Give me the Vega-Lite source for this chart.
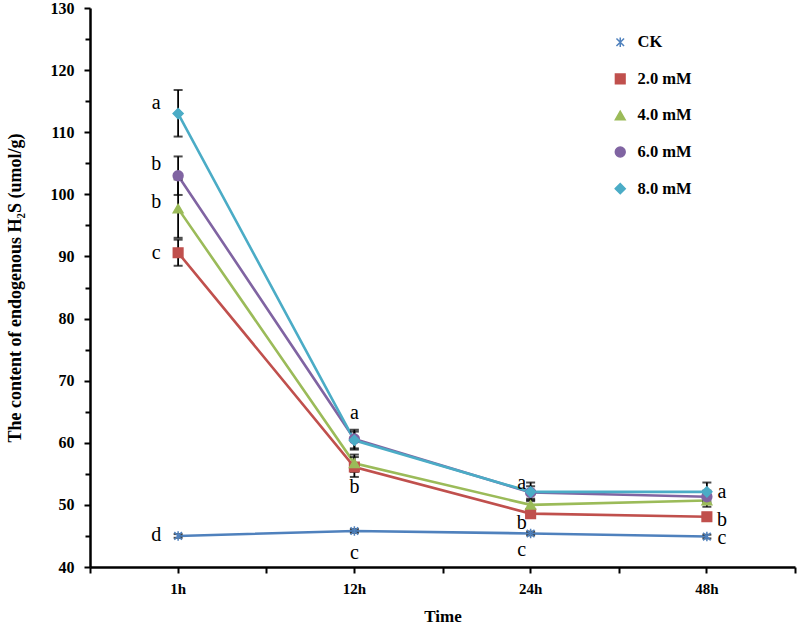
{
  "$schema": "https://vega.github.io/schema/vega-lite/v6.json",
  "width": 705,
  "height": 559,
  "autosize": {"type": "none"},
  "padding": {"left": 90, "top": 8, "right": 2, "bottom": 65},
  "background": "white",
  "datasets": {
    "h2s": [
      {"time": "1h", "series": "CK", "value": 45.0, "lo": 44.7, "hi": 45.3},
      {"time": "12h", "series": "CK", "value": 45.8, "lo": 45.5, "hi": 46.1},
      {"time": "24h", "series": "CK", "value": 45.4, "lo": 45.1, "hi": 45.7},
      {"time": "48h", "series": "CK", "value": 44.9, "lo": 44.6, "hi": 45.2},
      {"time": "1h", "series": "2.0 mM", "value": 90.6, "lo": 88.5, "hi": 92.7},
      {"time": "12h", "series": "2.0 mM", "value": 56.1, "lo": 54.5, "hi": 57.7},
      {"time": "24h", "series": "2.0 mM", "value": 48.6, "lo": 48.0, "hi": 49.2},
      {"time": "48h", "series": "2.0 mM", "value": 48.1, "lo": 47.7, "hi": 48.5},
      {"time": "1h", "series": "4.0 mM", "value": 97.7, "lo": 93.0, "hi": 102.4},
      {"time": "12h", "series": "4.0 mM", "value": 56.7, "lo": 55.3, "hi": 58.1},
      {"time": "24h", "series": "4.0 mM", "value": 50.0, "lo": 49.2, "hi": 50.8},
      {"time": "48h", "series": "4.0 mM", "value": 50.7, "lo": 49.7, "hi": 51.7},
      {"time": "1h", "series": "6.0 mM", "value": 103.0, "lo": 99.9, "hi": 106.1},
      {"time": "12h", "series": "6.0 mM", "value": 60.6, "lo": 59.1, "hi": 62.1},
      {"time": "24h", "series": "6.0 mM", "value": 52.0, "lo": 51.0, "hi": 53.0},
      {"time": "48h", "series": "6.0 mM", "value": 51.3, "lo": 50.3, "hi": 52.3},
      {"time": "1h", "series": "8.0 mM", "value": 113.0, "lo": 109.3, "hi": 116.8},
      {"time": "12h", "series": "8.0 mM", "value": 60.4, "lo": 58.9, "hi": 61.8},
      {"time": "24h", "series": "8.0 mM", "value": 52.1, "lo": 50.6, "hi": 53.6},
      {"time": "48h", "series": "8.0 mM", "value": 52.1, "lo": 50.6, "hi": 53.6}
    ],
    "letters": [
      {"time": "1h", "letter": "a", "value": 114.7},
      {"time": "1h", "letter": "b", "value": 104.9},
      {"time": "1h", "letter": "b", "value": 98.8},
      {"time": "1h", "letter": "c", "value": 90.5},
      {"time": "1h", "letter": "d", "value": 45.2},
      {"time": "12h", "letter": "a", "value": 64.8},
      {"time": "12h", "letter": "b", "value": 52.9},
      {"time": "12h", "letter": "c", "value": 42.3},
      {"time": "24h", "letter": "a", "value": 53.5},
      {"time": "24h", "letter": "b", "value": 47.1},
      {"time": "24h", "letter": "c", "value": 42.7},
      {"time": "48h", "letter": "a", "value": 52.1},
      {"time": "48h", "letter": "b", "value": 47.6},
      {"time": "48h", "letter": "c", "value": 44.6}
    ]
  },
  "layer": [
    {
      "data": {"name": "h2s"},
      "mark": {"type": "line", "strokeWidth": 2.6},
      "encoding": {
        "x": {
          "field": "time", "type": "ordinal",
          "sort": ["1h", "12h", "24h", "48h"],
          "scale": {"type": "band", "domain": ["1h", "12h", "24h", "48h"], "paddingInner": 0, "paddingOuter": 0},
          "axis": {
            "orient": "bottom", "title": "Time", "labelAngle": 0,
            "labelFont": "Liberation Serif", "labelFontWeight": "bold", "labelFontSize": 15, "labelColor": "black", "labelPadding": 8,
            "titleFont": "Liberation Serif", "titleFontWeight": "bold", "titleFontSize": 17, "titleColor": "black", "titlePadding": 12,
            "tickSize": 6, "tickWidth": 2, "tickColor": "black", "domainColor": "black", "domainWidth": 2.5
          }
        },
        "y": {
          "field": "value", "type": "quantitative",
          "scale": {"domain": [40, 130], "nice": false, "zero": false},
          "axis": {
            "orient": "left", "title": "The content of endogenous H₂S (umol/g)",
            "values": [40, 50, 60, 70, 80, 90, 100, 110, 120, 130],
            "labelFont": "Liberation Serif", "labelFontWeight": "bold", "labelFontSize": 16, "labelColor": "black", "labelPadding": 10,
            "titleFont": "Liberation Serif", "titleFontWeight": "bold", "titleFontSize": 18, "titleColor": "black", "titlePadding": 26,
            "tickSize": 6, "tickWidth": 2, "tickColor": "black", "domainColor": "black", "domainWidth": 2.5
          }
        },
        "color": {
          "field": "series", "type": "nominal",
          "scale": {"domain": ["CK", "2.0 mM", "4.0 mM", "6.0 mM", "8.0 mM"], "range": ["#4F81BD", "#C0504D", "#9BBB59", "#8064A2", "#4BACC6"]},
          "legend": {
            "title": null, "orient": "none", "legendX": 522, "legendY": 26, "direction": "vertical",
            "labelFont": "Liberation Serif", "labelFontWeight": "bold", "labelFontSize": 16.5, "labelColor": "black",
            "labelOffset": 9, "rowPadding": 19.6, "padding": 0, "symbolSize": 100
          }
        }
      }
    },
    {
      "data": {"name": "h2s"},
      "mark": {"type": "rule", "color": "black", "strokeWidth": 1.8},
      "encoding": {
        "x": {"field": "time", "type": "ordinal", "sort": ["1h", "12h", "24h", "48h"], "axis": null},
        "y": {"field": "lo", "type": "quantitative", "axis": null},
        "y2": {"field": "hi"}
      }
    },
    {
      "data": {"name": "h2s"},
      "mark": {"type": "tick", "orient": "horizontal", "color": "black", "size": 9, "thickness": 2},
      "encoding": {
        "x": {"field": "time", "type": "ordinal", "sort": ["1h", "12h", "24h", "48h"], "axis": null},
        "y": {"field": "lo", "type": "quantitative", "axis": null}
      }
    },
    {
      "data": {"name": "h2s"},
      "mark": {"type": "tick", "orient": "horizontal", "color": "black", "size": 9, "thickness": 2},
      "encoding": {
        "x": {"field": "time", "type": "ordinal", "sort": ["1h", "12h", "24h", "48h"], "axis": null},
        "y": {"field": "hi", "type": "quantitative", "axis": null}
      }
    },
    {
      "data": {"name": "h2s"},
      "mark": {"type": "point", "filled": true, "opacity": 1, "strokeWidth": 1.5},
      "encoding": {
        "x": {"field": "time", "type": "ordinal", "sort": ["1h", "12h", "24h", "48h"], "axis": null},
        "y": {"field": "value", "type": "quantitative", "axis": null},
        "color": {"field": "series", "type": "nominal"},
        "stroke": {
          "field": "series", "type": "nominal", "legend": null,
          "scale": {"domain": ["CK", "2.0 mM", "4.0 mM", "6.0 mM", "8.0 mM"], "range": ["#4F81BD", "#C0504D", "#9BBB59", "#8064A2", "#4BACC6"]}
        },
        "shape": {
          "field": "series", "type": "nominal",
          "scale": {"domain": ["CK", "2.0 mM", "4.0 mM", "6.0 mM", "8.0 mM"], "range": ["M0,-1L0,1M-0.8,-0.8L0.8,0.8M-0.8,0.8L0.8,-0.8", "square", "triangle-up", "circle", "diamond"]}
        },
        "size": {
          "field": "series", "type": "nominal", "legend": null,
          "scale": {"domain": ["CK", "2.0 mM", "4.0 mM", "6.0 mM", "8.0 mM"], "range": [90, 100, 110, 80, 150]}
        }
      }
    },
    {
      "data": {"name": "letters"},
      "transform": [{"filter": "datum.time === '1h'"}],
      "mark": {"type": "text", "font": "Liberation Serif", "fontSize": 20, "color": "black", "baseline": "middle", "align": "center", "dx": -22},
      "encoding": {
        "x": {"field": "time", "type": "ordinal", "sort": ["1h", "12h", "24h", "48h"], "axis": null},
        "y": {"field": "value", "type": "quantitative", "axis": null},
        "text": {"field": "letter"}
      }
    },
    {
      "data": {"name": "letters"},
      "transform": [{"filter": "datum.time === '12h'"}],
      "mark": {"type": "text", "font": "Liberation Serif", "fontSize": 20, "color": "black", "baseline": "middle", "align": "center", "dx": 0},
      "encoding": {
        "x": {"field": "time", "type": "ordinal", "sort": ["1h", "12h", "24h", "48h"], "axis": null},
        "y": {"field": "value", "type": "quantitative", "axis": null},
        "text": {"field": "letter"}
      }
    },
    {
      "data": {"name": "letters"},
      "transform": [{"filter": "datum.time === '24h'"}],
      "mark": {"type": "text", "font": "Liberation Serif", "fontSize": 20, "color": "black", "baseline": "middle", "align": "center", "dx": -9},
      "encoding": {
        "x": {"field": "time", "type": "ordinal", "sort": ["1h", "12h", "24h", "48h"], "axis": null},
        "y": {"field": "value", "type": "quantitative", "axis": null},
        "text": {"field": "letter"}
      }
    },
    {
      "data": {"name": "letters"},
      "transform": [{"filter": "datum.time === '48h'"}],
      "mark": {"type": "text", "font": "Liberation Serif", "fontSize": 20, "color": "black", "baseline": "middle", "align": "center", "dx": 15},
      "encoding": {
        "x": {"field": "time", "type": "ordinal", "sort": ["1h", "12h", "24h", "48h"], "axis": null},
        "y": {"field": "value", "type": "quantitative", "axis": null},
        "text": {"field": "letter"}
      }
    },
    {
      "data": {"name": "h2s"},
      "mark": {"type": "point", "opacity": 0},
      "encoding": {
        "x": {
          "field": "time", "type": "ordinal", "sort": ["1h", "12h", "24h", "48h"],
          "axis": {"orient": "bottom", "title": null, "labels": false, "domain": false, "tickBand": "extent", "tickSize": 6, "tickWidth": 2, "tickColor": "black"}
        },
        "y": {
          "field": "value", "type": "quantitative",
          "axis": {"orient": "left", "title": null, "labels": false, "domain": false, "values": [45, 55, 65, 75, 85, 95, 105, 115, 125], "tickSize": 5, "tickWidth": 2, "tickColor": "black"}
        }
      }
    }
  ],
  "resolve": {"axis": {"x": "independent", "y": "independent"}},
  "config": {
    "view": {"stroke": null},
    "axis": {"grid": false}
  }
}
